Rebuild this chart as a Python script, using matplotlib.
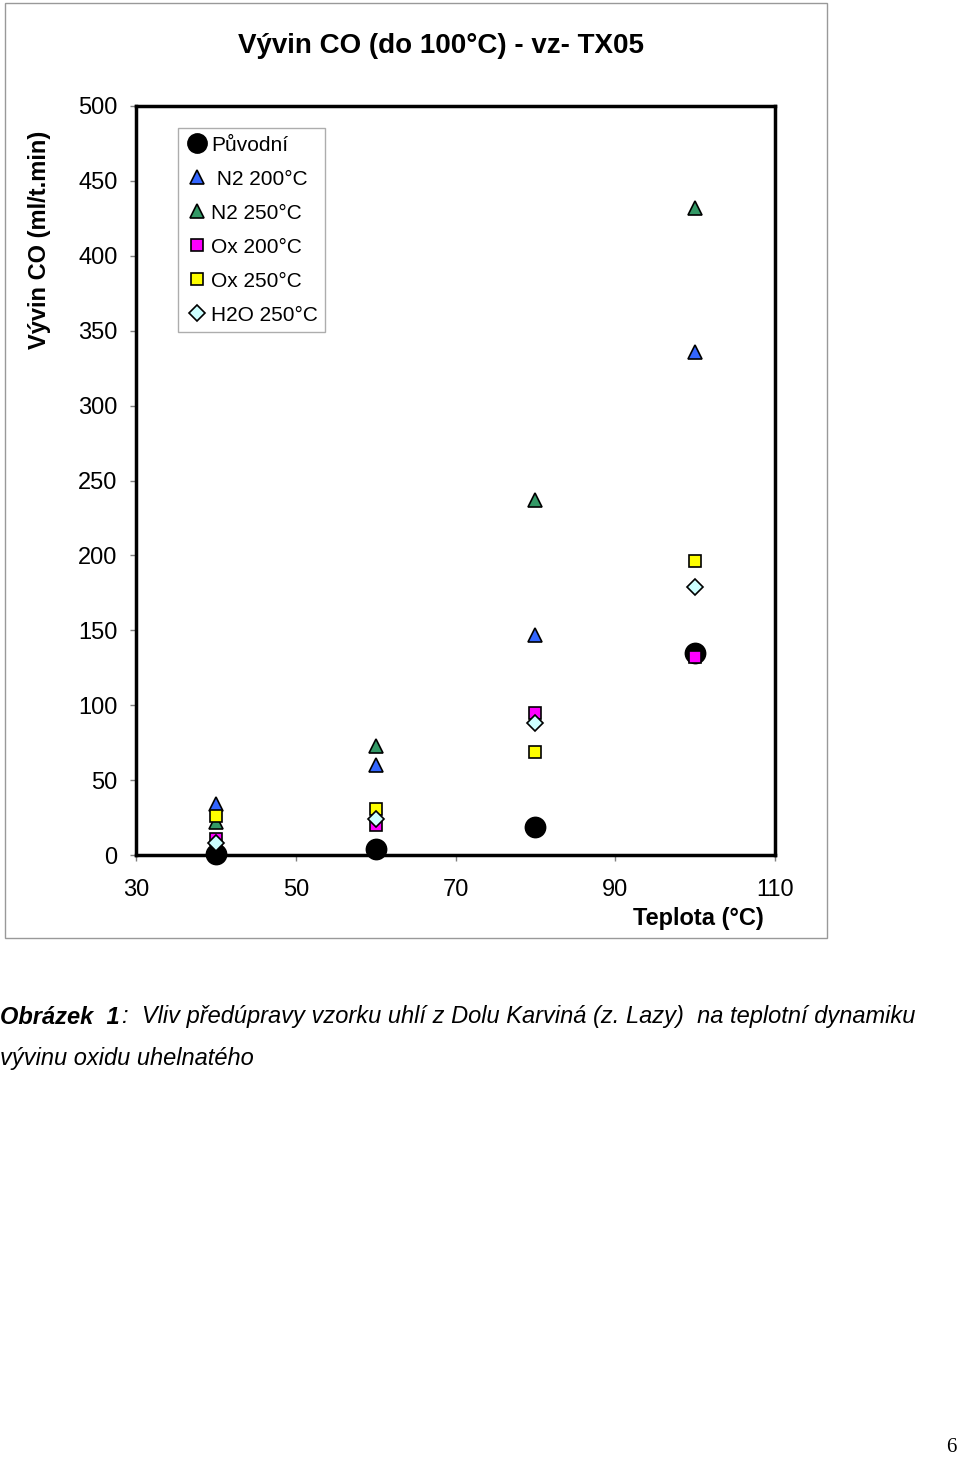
import matplotlib.pyplot as plt
from matplotlib.patches import Rectangle

plt.rcParams['font.family'] = ['Liberation Sans', 'DejaVu Sans']

# temperatures (C)
teplota = [40, 60, 80, 100]

# CO evolution per series (ml/t.min)
puvodni = [1, 4, 19, 135]
n2_200 = [34, 60, 147, 336]
n2_250 = [22, 73, 237, 432]
ox_200 = [11, 20, 95, 132]
ox_250 = [26, 31, 69, 196]
h2o_250 = [8, 24, 88, 179]

labels = ['Původní', ' N2 200°C', 'N2 250°C', 'Ox 200°C', 'Ox 250°C', 'H2O 250°C']
xticks = [30, 50, 70, 90, 110]
yticks = [0, 50, 100, 150, 200, 250, 300, 350, 400, 450, 500]

W, H = 960, 1457
fig = plt.figure(figsize=(W/100, H/100), dpi=100)

# outer chart frame
fig.patches.append(Rectangle((5/W, 1-938/H), 822/W, 935/H, transform=fig.transFigure,
                             fill=False, edgecolor='#999999', linewidth=1))

ax = fig.add_axes([136/W, 1-855/H, 639/W, 749/H])

series = [
    (puvodni, 'o', 14.5, 'black'),
    (n2_200, '^', 10.5, '#3366ff'),
    (n2_250, '^', 10.5, '#339966'),
    (ox_200, 's', 9, '#ff00ff'),
    (ox_250, 's', 9, '#ffff00'),
    (h2o_250, 'D', 8.5, '#ccffff'),
]
for (vals, m, ms, c), lab in zip(series, labels):
    ax.plot(teplota, vals, linestyle='none', marker=m, markersize=ms,
            markerfacecolor=c, markeredgecolor='black', markeredgewidth=1.2,
            label=lab, clip_on=False)

ax.set_xlim(30, 110)
ax.set_ylim(0, 500)
ax.set_xticks(xticks)
ax.set_yticks(yticks)
ax.tick_params(labelsize=17, length=4.3, width=1, color='#808080')
ax.tick_params(axis='y', pad=9)
ax.tick_params(axis='x', pad=13)
for s in ax.spines.values():
    s.set_linewidth(2.5)

ax.set_xlabel('Teplota (°C)', fontsize=17, fontweight='bold')
ax.xaxis.set_label_coords(0.88, -0.07)

fig.text(40/W, 1-240/H, 'Vývin CO (ml/t.min)', rotation=90, fontsize=17,
         fontweight='bold', ha='center', va='center')
fig.text(441/W, 1-46/H, 'Vývin CO (do 100°C) - vz- TX05', fontsize=20,
         fontweight='bold', ha='center', va='center')

leg = ax.legend(loc='upper left', bbox_to_anchor=(0.065, 0.97), fontsize=15,
                frameon=True, fancybox=False, edgecolor='#999999',
                handletextpad=0.05, handlelength=1.2, borderpad=0.35,
                labelspacing=0.72, markerscale=0.95, borderaxespad=0)
leg.get_frame().set_linewidth(1)

t1 = fig.text(0, 1-1017/H, 'Obrázek  1', fontsize=17, fontweight='bold',
              style='italic', ha='left', va='center')
ax.annotate(':  Vliv předúpravy vzorku uhlí z Dolu Karviná (z. Lazy)  na teplotní dynamiku',
            xy=(1, 0.5), xycoords=t1, xytext=(2, 0), textcoords='offset points',
            fontsize=17, style='italic', ha='left', va='center',
            annotation_clip=False)
fig.text(0, 1-1058/H, 'vývinu oxidu uhelnatého', fontsize=17, style='italic',
         ha='left', va='center')
fig.text(951/W, 1-1447/H, '6', fontsize=15, family='Liberation Serif',
         ha='center', va='center')

fig.savefig('out.png', dpi=100)
